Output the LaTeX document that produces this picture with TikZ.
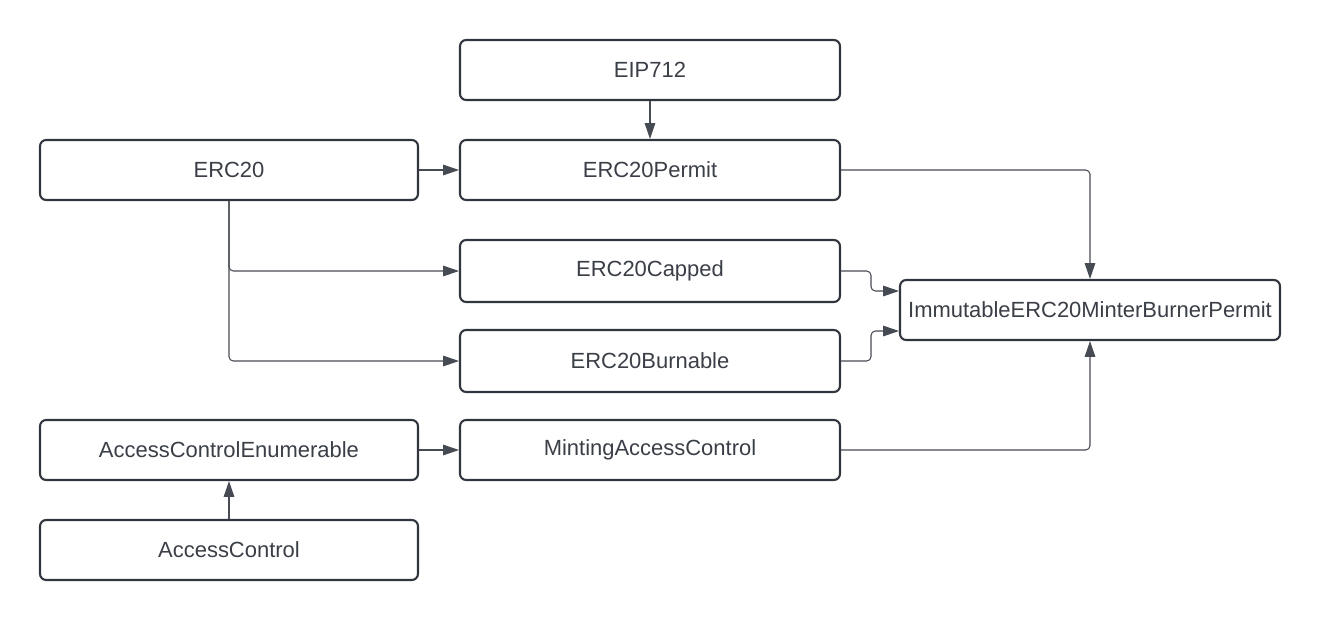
\documentclass[tikz,border=0pt]{standalone}
\usepackage{fontspec}
\setmainfont{Liberation Sans}
\usetikzlibrary{arrows.meta,calc}
\definecolor{boxline}{RGB}{48,53,62}
\definecolor{txtgray}{RGB}{58,62,70}
\definecolor{wire}{RGB}{70,74,82}

\begin{document}
\begin{tikzpicture}[x=0.02cm, y=-0.02cm, >={Triangle[length=9pt,width=6pt]}]
			\tikzstyle{block} = [draw=boxline, line width=1.2pt, rounded corners=3.5pt, minimum width=7.6cm, minimum height=1.2cm, inner sep=0pt, text=txtgray, font=\fontsize{12.5}{15}\selectfont]
			\tikzstyle{link} = [->, color=wire, line width=0.6pt, rounded corners=2.5pt]
			\useasboundingbox (0,0) rectangle (1320,620);
			\begin{scope}
			\path

			node[block] (eip) at (650,70) {EIP712}
			node[block, minimum width=7.56cm] (erc) at (229,170) {ERC20}
			node[block] (permit) at (650,170) {ERC20Permit}
			node[block, minimum height=1.24cm] (capped) at (650,271) {ERC20Capped}
			node[block, minimum height=1.24cm] (burn) at (650,361) {ERC20Burnable}
			node[block] (immut) at (1090,310) {ImmutableERC20MinterBurnerPermit}
			node[block, minimum width=7.56cm] (acenum) at (229,450) {AccessControlEnumerable}
			node[block] (mintac) at (650,450) {MintingAccessControl}
			node[block, minimum width=7.56cm] (ac) at (229,550) {AccessControl}
			;

			% ports on the left side of the target
			\coordinate (in1) at ($(immut.west)+(0,-19)$);
			\coordinate (in2) at ($(immut.west)+(0,21)$);

			\path[link]
			(eip) edge (permit)
			(erc) edge (permit)
			(ac) edge (acenum)
			(acenum) edge (mintac)
			;
			\draw[link] (erc.south) |- (capped.west);
			\draw[link] (erc.south) |- (burn.west);
			\draw[link] (permit.east) -| (immut.north);
			\draw[link] (mintac.east) -| (immut.south);
			\draw[link] (capped.east) -- ++(30,0) |- (in1);
			\draw[link] (burn.east) -- ++(30,0) |- (in2);
			\end{scope}

			\end{tikzpicture}
\end{document}
